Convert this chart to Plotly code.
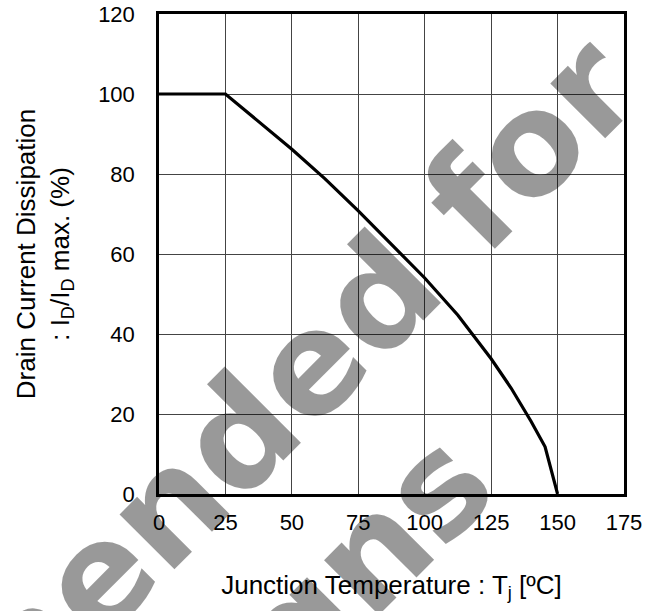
import plotly.graph_objects as go

# Data
temp_c = [0, 25, 50, 62.5, 75, 87.5, 100, 112.5, 125, 132.5, 140, 145.3, 150]
id_pct = [100, 100, 86.2, 78.8, 70.8, 62.5, 54.0, 44.7, 33.8, 26.5, 18.2, 11.8, 0]

x_ticks = [0, 25, 50, 75, 100, 125, 150, 175]
y_ticks = [0, 20, 40, 60, 80, 100, 120]

FONT = "Liberation Sans, Arial, sans-serif"
WM_FONT = "DejaVu Sans, sans-serif"

fig = go.Figure()
fig.add_trace(go.Scatter(x=temp_c, y=id_pct, mode="lines",
                         line=dict(color="black", width=3.2),
                         hoverinfo="skip", showlegend=False))

axis_common = dict(showgrid=True, gridcolor="#444", gridwidth=1,
                   showline=True, linecolor="black", linewidth=2.5, mirror=True,
                   zeroline=False, ticks="outside", tickcolor="rgba(0,0,0,0)",
                   automargin=False,
                   tickfont=dict(family=FONT, size=22, color="black"))

fig.update_xaxes(range=[0, 175], tickvals=x_ticks, ticklen=7,
                 title=dict(text="Junction Temperature : T<sub>j</sub> [ºC]",
                            font=dict(family=FONT, size=26, color="black"),
                            standoff=42),
                 **axis_common)
fig.update_yaxes(range=[0, 120], tickvals=y_ticks, ticklen=17,
                 title=dict(text="Drain Current Dissipation<br>: I<sub>D</sub>/I<sub>D</sub> max. (%)",
                            font=dict(family=FONT, size=26, color="black"),
                            standoff=22),
                 **axis_common)

wm = dict(xref="paper", yref="paper", showarrow=False, textangle=-45,
          xanchor="right", yanchor="top",
          font=dict(family=WM_FONT, size=142, color="rgba(0,0,0,0.4)"))
fig.add_annotation(text="<b>Not Recommended for</b>", x=1.1035, y=1.0269, **wm)
fig.add_annotation(text="<b>New Designs</b>", x=0.793, y=0.204, **wm)

fig.update_layout(width=655, height=611,
                  margin=dict(l=159, r=31, t=14, b=117),
                  plot_bgcolor="white", paper_bgcolor="white",
                  font=dict(family=FONT, color="black"))

fig.write_html("out.html", config={"displayModeBar": False},
               post_script="document.body.style.margin='0';")
